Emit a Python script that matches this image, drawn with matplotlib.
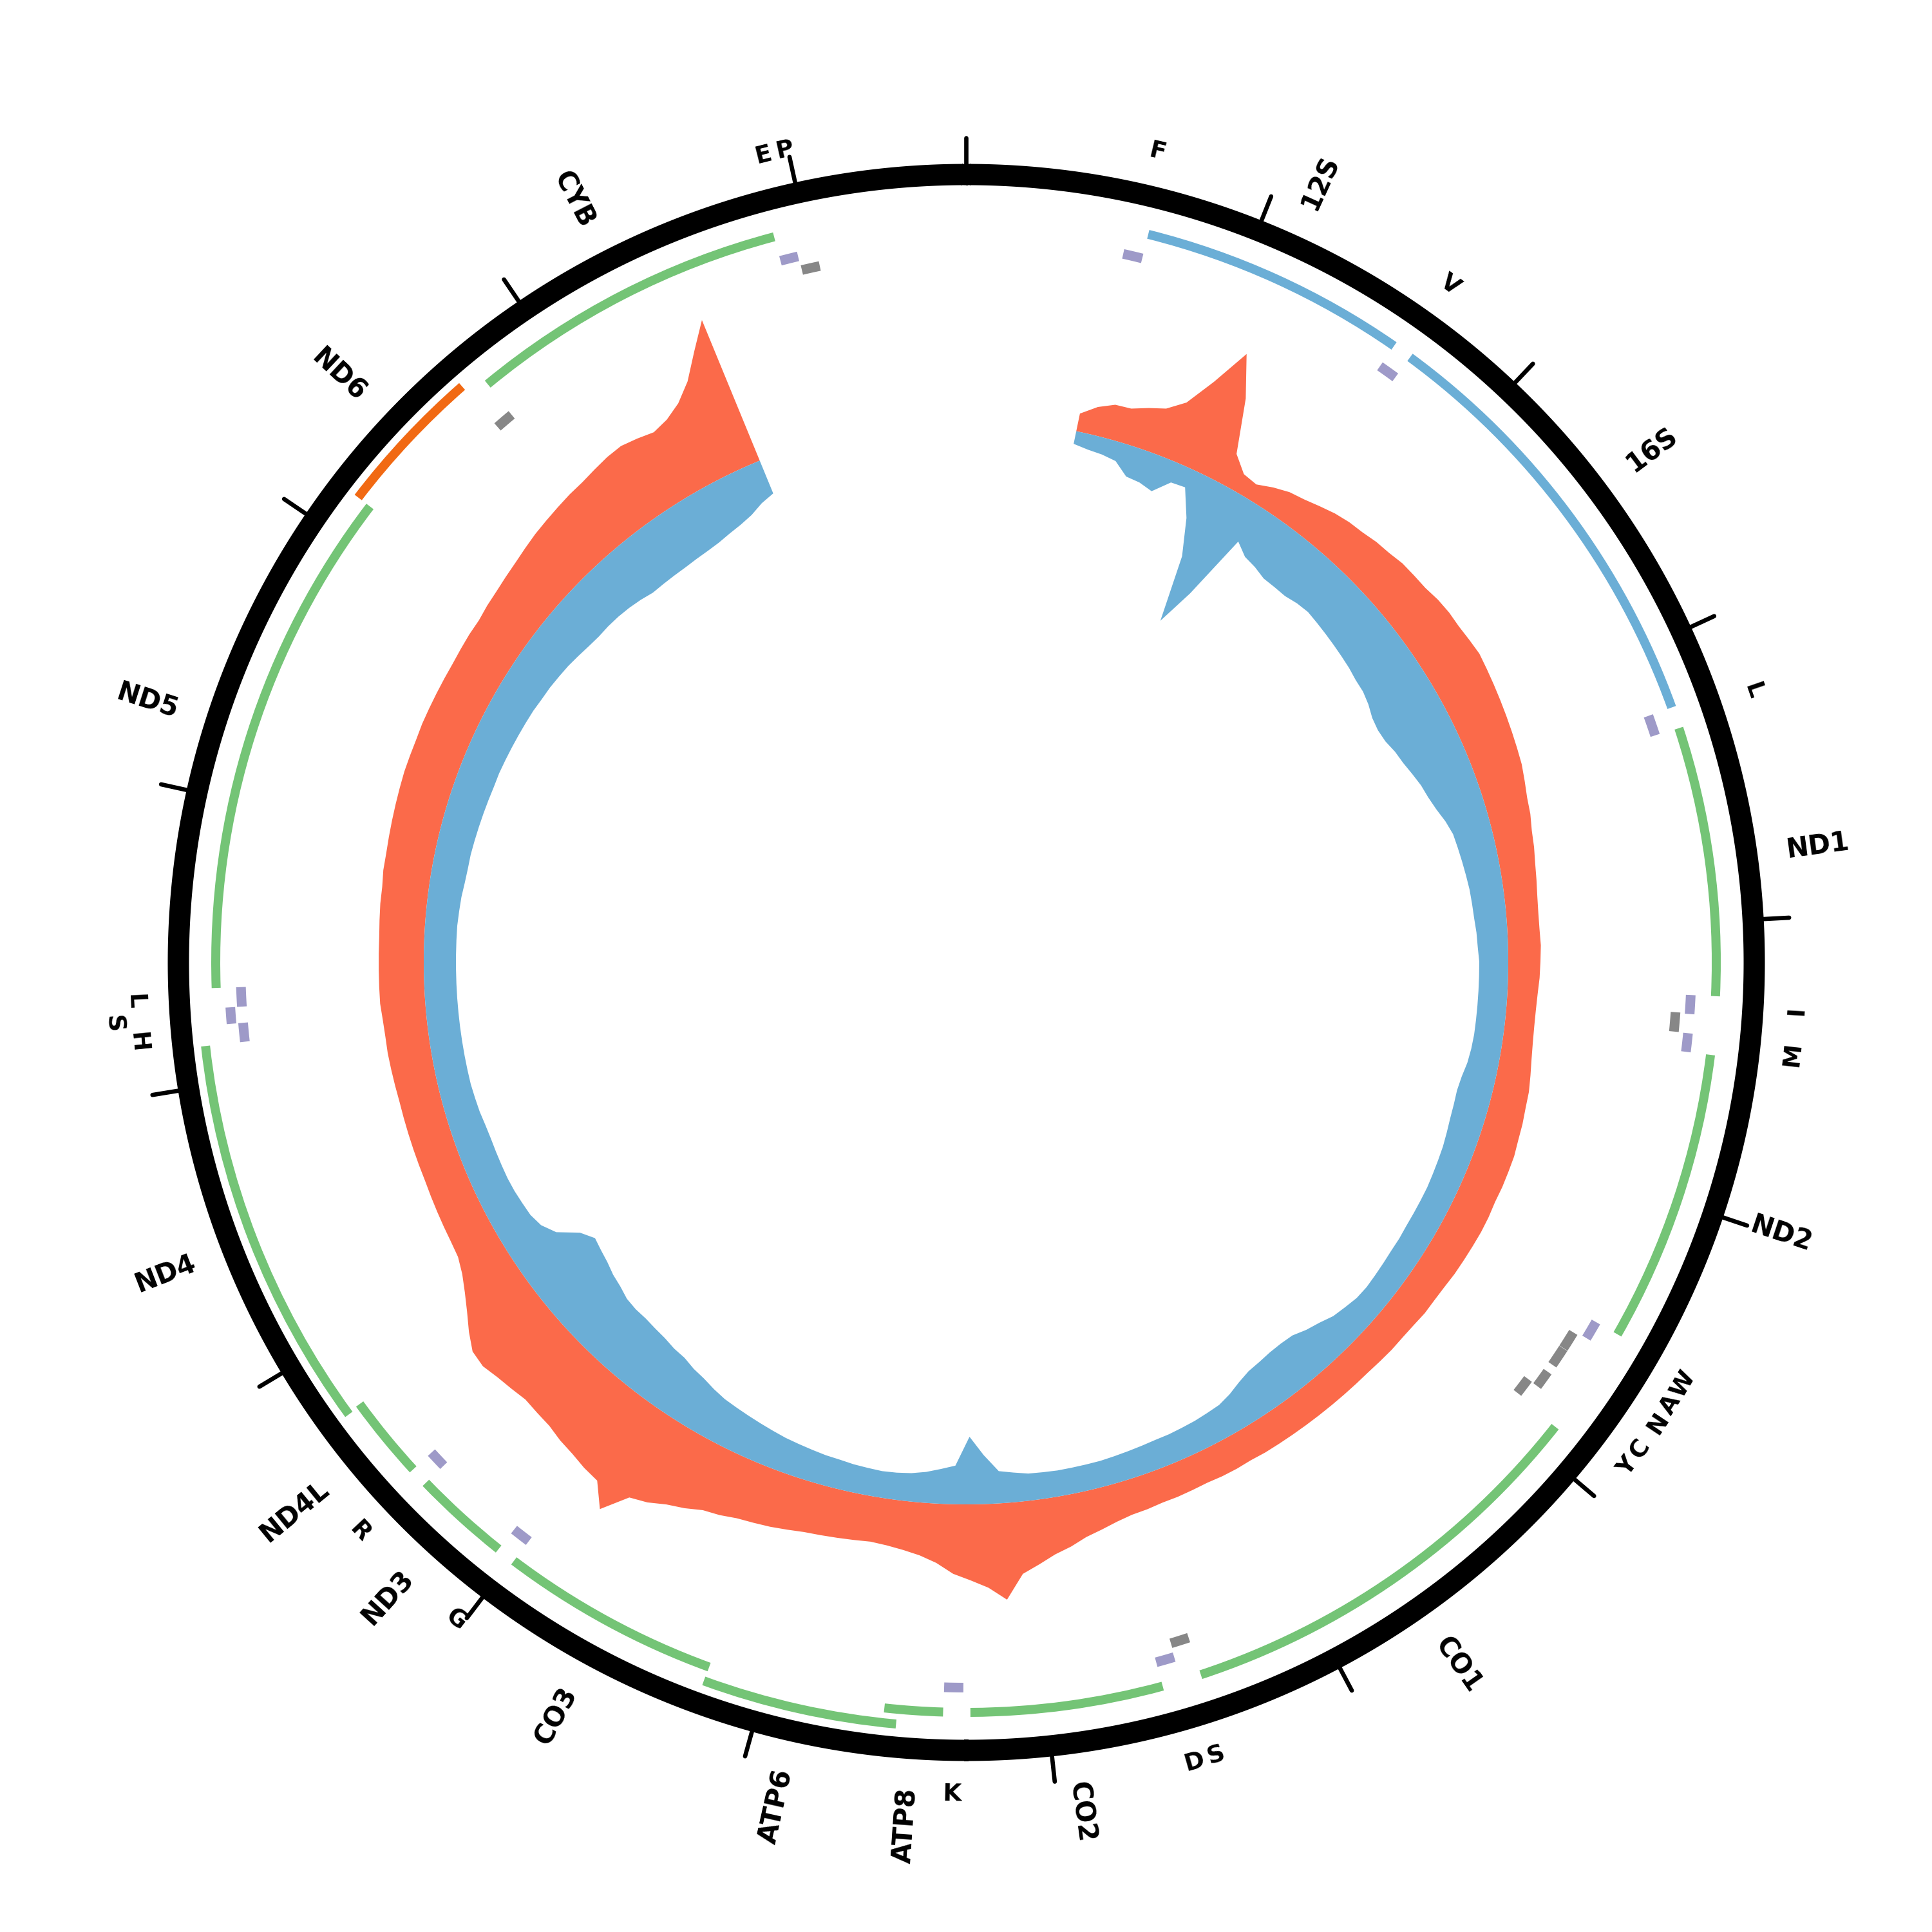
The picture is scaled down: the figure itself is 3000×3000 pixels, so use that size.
import numpy as np
import matplotlib
matplotlib.use("Agg")
import matplotlib.pyplot as plt

GENOME_LENGTH = 16569

# protein-coding and rRNA genes (bp, 1-based)
GENE_NAMES = ["12S", "16S", "ND1", "ND2", "CO1", "CO2", "ATP8", "ATP6", "CO3",
              "ND3", "ND4L", "ND4", "ND5", "ND6", "CYB"]
GENE_STARTS = [648, 1671, 3307, 4470, 5904, 7586, 8366, 8527, 9207,
               10059, 10470, 10760, 12337, 14149, 14747]
GENE_ENDS = [1601, 3229, 4262, 5511, 7445, 8269, 8572, 9207, 9990,
             10404, 10766, 12137, 14148, 14673, 15887]
GENE_KINDS = ["rRNA", "rRNA", "H", "H", "H", "H", "H", "H", "H",
              "H", "H", "H", "H", "L", "H"]

# tRNAs
TRNA_NAMES = ["F", "V", "L", "I", "Q", "M", "W", "A", "N", "C", "Y", "S", "D",
              "K", "G", "R", "H", "S", "L", "E", "T", "P"]
TRNA_STARTS = [577, 1602, 3230, 4263, 4329, 4402, 5512, 5587, 5657, 5761, 5826, 7446, 7518,
               8295, 9991, 10405, 12138, 12207, 12266, 14674, 15888, 15956]
TRNA_ENDS = [647, 1670, 3304, 4331, 4400, 4469, 5579, 5655, 5729, 5826, 5891, 7514, 7585,
             8364, 10058, 10469, 12206, 12265, 12336, 14742, 15953, 16023]
TRNA_STRANDS = ["H", "H", "H", "H", "L", "H", "H", "L", "L", "L", "L", "L", "H",
                "H", "H", "H", "H", "H", "H", "L", "H", "L"]
# labels as printed on the map (None = not labelled)
TRNA_LABELS = ["F", "V", "L", "I", None, "M", "W", "A", "N", "C", "Y", "S", "D",
               "K", "G", "R", "H", "S", "L", None, "E", "P"]

# binned read depth, 75 bp bins starting at 540 bp
COV_BIN_START = 540
COV_BIN_SIZE = 75
COV_FWD = [28, 44, 54, 55, 64, 72, 92, 138, 198, 135,
           52, 30, 26, 36, 44, 48, 54, 60, 64, 66,
           70, 72, 76, 77, 78, 82, 84, 84, 86, 88,
           86, 84, 82, 80, 78, 76, 74, 70, 66, 64,
           60, 58, 55, 53, 51, 50, 50, 51, 50, 49,
           47, 46, 46, 47, 49, 52, 55, 56, 58, 59,
           61, 61, 61, 60, 61, 61, 60, 59, 58, 56,
           55, 55, 53, 52, 52, 51, 50, 50, 50, 50,
           50, 50, 50, 50, 50, 49, 50, 50, 49, 50,
           51, 51, 53, 54, 58, 64, 70, 80, 88, 100,
           112, 150, 130, 118, 108, 92, 82, 76, 72, 70,
           72, 74, 76, 78, 82, 86, 89, 92, 98, 102,
           112, 120, 132, 140, 180, 146, 142, 136, 132, 126,
           124, 122, 126, 130, 136, 134, 120, 104, 90, 78,
           70, 68, 67, 66, 65, 64, 64, 64, 64, 64,
           64, 65, 66, 67, 67, 68, 70, 70, 70, 70,
           70, 71, 72, 72, 74, 74, 75, 76, 77, 78,
           79, 79, 79, 80, 80, 80, 80, 80, 81, 82,
           82, 85, 87, 90, 93, 97, 101, 104, 107, 110,
           112, 116, 120, 122, 118, 113, 120, 134, 158, 196,
           236]
COV_REV = [20, 24, 26, 30, 48, 50, 56, 32, 30, 72,
           128, 232, 172, 64, 78, 82, 88, 88, 88, 84,
           82, 84, 86, 88, 90, 92, 95, 96, 100, 106,
           108, 106, 100, 96, 90, 84, 80, 74, 66, 60,
           58, 56, 54, 52, 51, 50, 48, 47, 45, 45,
           45, 45, 45, 45, 46, 48, 52, 54, 53, 52,
           50, 48, 47, 46, 45, 45, 45, 45, 44, 44,
           43, 42, 41, 42, 46, 50, 58, 64, 72, 74,
           74, 72, 70, 64, 56, 50, 48, 46, 45, 44,
           44, 43, 42, 41, 40, 40, 40, 40, 41, 42,
           46, 50, 76, 105, 60, 54, 48, 44, 42, 41,
           42, 43, 45, 46, 48, 50, 52, 55, 58, 61,
           64, 67, 72, 78, 82, 88, 90, 94, 96, 98,
           98, 100, 106, 110, 116, 120, 124, 110, 80, 66,
           60, 58, 56, 55, 55, 55, 55, 54, 52, 51,
           50, 50, 50, 50, 50, 50, 50, 50, 50, 50,
           50, 50, 51, 52, 54, 55, 55, 56, 57, 58,
           59, 60, 60, 61, 62, 63, 64, 65, 67, 68,
           70, 72, 75, 78, 80, 80, 81, 83, 86, 90,
           90, 90, 90, 89, 88, 86, 82, 78, 72, 62,
           55]

COLORS = {"rRNA": "#6baed6", "H": "#74c476", "L": "#f16913"}
TRNA_COLORS = {"H": "#9e9ac8", "L": "#878787"}
FWD_COLOR = "#fb6a4a"
REV_COLOR = "#6baed6"

# radial layout (px on the 3000 px canvas)
R_COV = 842
R_RING = (1207, 1240)
R_TICK = 1280
GENE_LEVELS = [(1158, 1172), (1181, 1195)]
TRNA_LEVELS = {"H": [(1119, 1134), (1137, 1152)], "L": [(1097, 1112), (1079, 1094)]}
R_GENE_LABEL = 1285
R_TRNA_LABEL = 1274


def to_theta(bp):
    return 2 * np.pi * np.asarray(bp, dtype=float) / GENOME_LENGTH


def stack_levels(starts, ends):
    levels = []
    prev_end, prev_level = -10, 1
    for s, e in zip(starts, ends):
        level = 1 - prev_level if s <= prev_end + 1 else 0
        levels.append(level)
        prev_end, prev_level = e, level
    return levels


def draw_coverage(ax, values, color, outward):
    vals = np.asarray(values, dtype=float)
    theta = to_theta(COV_BIN_START + COV_BIN_SIZE * np.arange(vals.size))
    edge = R_COV + vals if outward else R_COV - vals
    arc = np.linspace(theta[-1], theta[0], 400)
    th = np.concatenate([[theta[0]], theta, [theta[-1]], arc])
    rr = np.concatenate([[R_COV], edge, [R_COV], np.full(arc.size, R_COV)])
    ax.fill(th, rr, color=color, lw=0)


fig = plt.figure(figsize=(10, 10), dpi=300)
ax = fig.add_axes([0, 0.002, 1, 1], projection="polar")
ax.set_theta_zero_location("N")
ax.set_theta_direction(-1)
ax.set_ylim(0, 1500)
ax.set_axis_off()

# coverage
draw_coverage(ax, COV_FWD, FWD_COLOR, True)
draw_coverage(ax, COV_REV, REV_COLOR, False)

# outer ring and ticks
full = np.linspace(0, 2 * np.pi, 1000)
ax.fill_between(full, R_RING[0], R_RING[1], color="black", lw=0)
for pos in range(0, GENOME_LENGTH, 1000):
    t = to_theta(pos)
    ax.plot([t, t], [R_RING[1] - 2, R_TICK], color="black", lw=1.6, solid_capstyle="round")

# genes
h_idx = [i for i, k in enumerate(GENE_KINDS) if k != "L"]
h_levels = stack_levels([GENE_STARTS[i] for i in h_idx], [GENE_ENDS[i] for i in h_idx])
gene_level = {i: lv for i, lv in zip(h_idx, h_levels)}
for i, (s, e, kind) in enumerate(zip(GENE_STARTS, GENE_ENDS, GENE_KINDS)):
    r0, r1 = GENE_LEVELS[gene_level.get(i, 1)]
    t0, t1 = to_theta(s - 1), to_theta(e)
    ax.bar((t0 + t1) / 2, r1 - r0, width=t1 - t0, bottom=r0, color=COLORS[kind], lw=0)

# tRNAs
for strand in ("H", "L"):
    idx = [i for i, st in enumerate(TRNA_STRANDS) if st == strand]
    levels = stack_levels([TRNA_STARTS[i] for i in idx], [TRNA_ENDS[i] for i in idx])
    for i, lv in zip(idx, levels):
        r0, r1 = TRNA_LEVELS[strand][lv]
        t0, t1 = to_theta(TRNA_STARTS[i] - 1), to_theta(TRNA_ENDS[i])
        ax.bar((t0 + t1) / 2, r1 - r0, width=t1 - t0, bottom=r0,
               color=TRNA_COLORS[strand], lw=0)

# gene labels, radial
for name, s, e in zip(GENE_NAMES, GENE_STARTS, GENE_ENDS):
    t = to_theta((s + e) / 2)
    deg = np.degrees(t)
    if deg < 180:
        rot, ha = 90 - deg, "left"
    else:
        rot, ha = 270 - deg, "right"
    ax.text(t, R_GENE_LABEL, name, rotation=rot, rotation_mode="anchor",
            ha=ha, va="center", fontsize=10, fontweight="bold", family="DejaVu Sans")

# tRNA labels, tangential
label_bump = {17: 36}
for i, (lab, s, e) in enumerate(zip(TRNA_LABELS, TRNA_STARTS, TRNA_ENDS)):
    if lab is None:
        continue
    t = to_theta((s + e) / 2)
    deg = np.degrees(t)
    r = R_TRNA_LABEL + label_bump.get(i, 0)
    if 90 < deg < 270:
        rot, va = 180 - deg, "top"
    else:
        rot, va = -deg, "bottom"
    ax.text(t, r, lab, rotation=rot, rotation_mode="anchor",
            ha="center", va=va, fontsize=9, fontweight="bold", family="DejaVu Sans")

fig.savefig("out.png", dpi=300)
